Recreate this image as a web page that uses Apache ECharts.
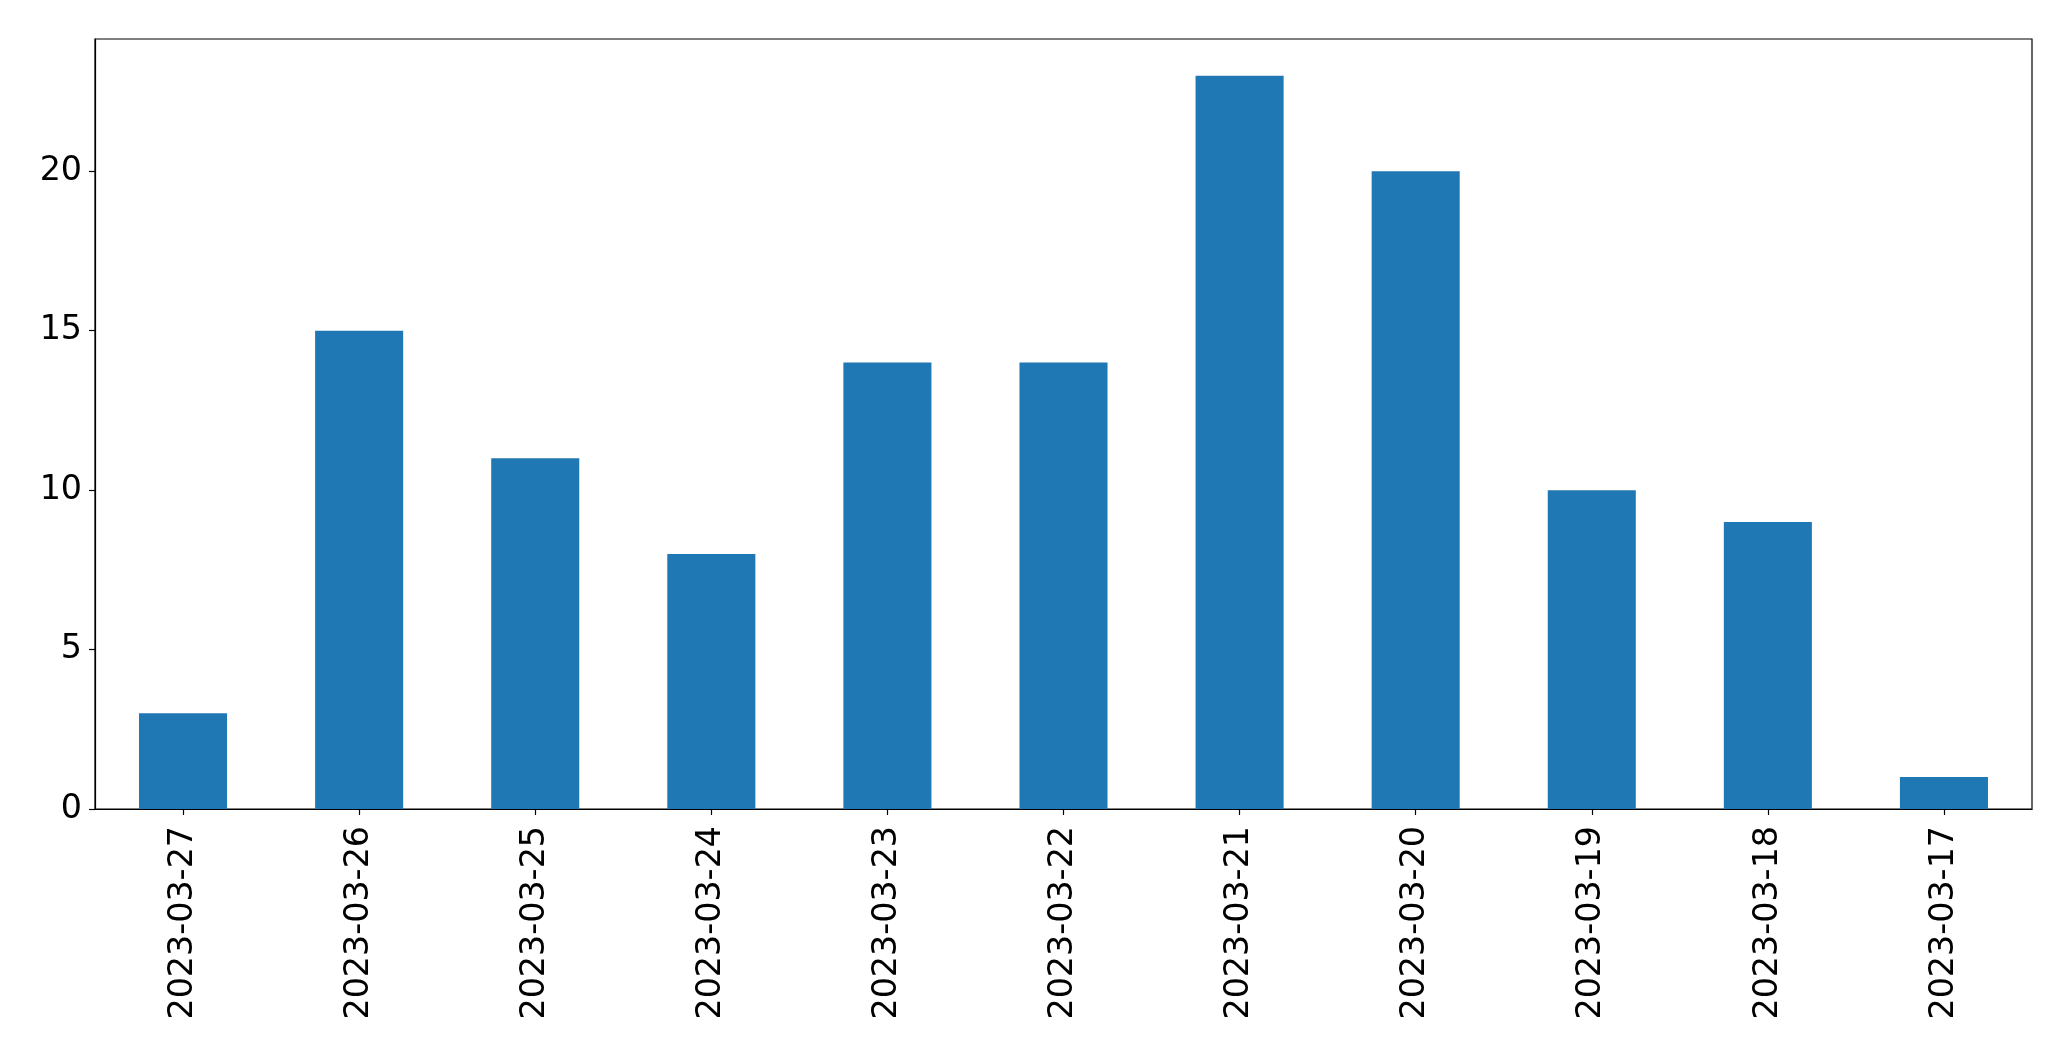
<!DOCTYPE html>
<html>
<head>
<meta charset="utf-8">
<script src="https://cdn.jsdelivr.net/npm/echarts@6/dist/echarts.min.js"></script>
<style>html,body{margin:0;padding:0;background:#fff;}#c{width:2071px;height:1061px;}</style>
</head>
<body>
<div id="c"></div>
<script>
const categories = ["2023-03-27","2023-03-26","2023-03-25","2023-03-24","2023-03-23","2023-03-22","2023-03-21","2023-03-20","2023-03-19","2023-03-18","2023-03-17"];
const values = [3, 15, 11, 8, 14, 14, 23, 20, 10, 9, 1];
const yTicks = [0, 5, 10, 15, 20];

const chart = echarts.init(document.getElementById('c'), null, {renderer: 'canvas'});
chart.setOption({
  animation: false,
  backgroundColor: '#fff',
  textStyle: {fontFamily: 'DejaVu Sans'},
  grid: {left: 95, top: 39, right: 39, bottom: 252, show: true, borderColor: '#000', borderWidth: 1.2, containLabel: false},
  xAxis: {
    type: 'category',
    data: categories,
    boundaryGap: true,
    axisLine: {show: true, lineStyle: {color: '#000', width: 1.2}},
    axisTick: {show: true, alignWithLabel: true, length: 6, lineStyle: {color: '#000', width: 1.2}},
    axisLabel: {rotate: 90, margin: 17, color: '#000', fontSize: 33.3, fontFamily: 'DejaVu Sans', interval: 0},
    splitLine: {show: false}
  },
  yAxis: {
    type: 'value',
    min: 0,
    max: 24.15,
    interval: 5,
    axisLine: {show: true, lineStyle: {color: '#000', width: 1.2}},
    axisTick: {show: true, length: 6, customValues: yTicks, lineStyle: {color: '#000', width: 1.2}},
    axisLabel: {margin: 13, color: '#000', fontSize: 33.3, fontFamily: 'DejaVu Sans', customValues: yTicks},
    splitLine: {show: false}
  },
  series: [{
    type: 'bar',
    data: values,
    barWidth: '50%',
    itemStyle: {color: '#1f77b4'}
  }]
});
</script>
</body>
</html>
